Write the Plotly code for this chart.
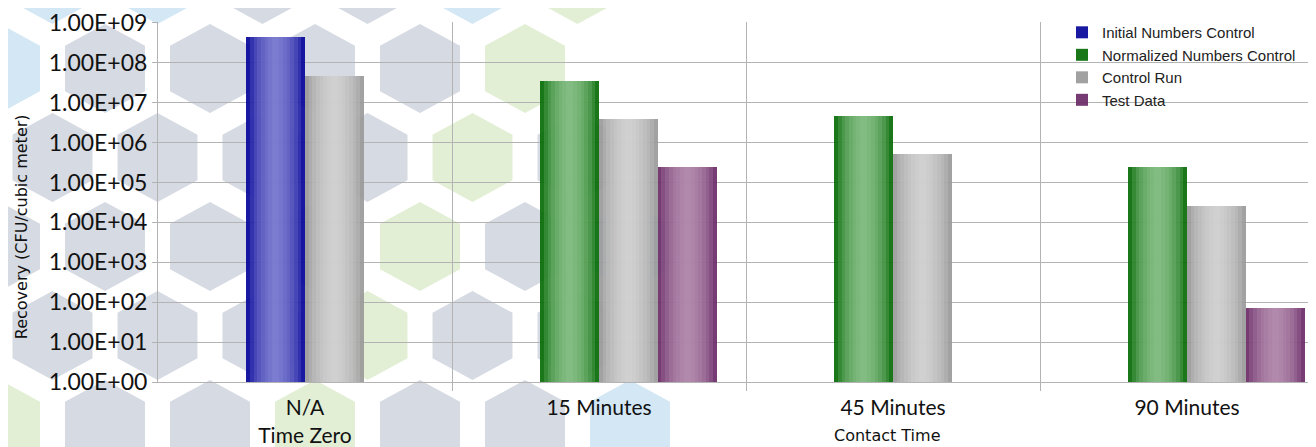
import plotly.graph_objects as go

# ---------------- data ----------------
categories = ["N/A<br>Time Zero", "15 Minutes", "45 Minutes", "90 Minutes"]
initial_numbers_control = [4.3e8, None, None, None]
normalized_numbers_control = [None, 3.5e7, 4.7e6, 2.4e5]
control_run = [4.6e7, 3.8e6, 5.1e5, 2.5e4]
test_data = [None, 2.4e5, None, 73]
y_tick_values = [10 ** k for k in range(10)]
y_tick_text = [f"{v:.2E}" for v in y_tick_values]

# ---------------- layout constants ----------------
OFF = 8                      # default page margin of the html body
W, H = 1316 - OFF, 447 - OFF
L, T, B = 150, 13, 62
PLOT_W = W - L
PLOT_H = H - T - B
CAT_PX = 294.0
x_pos = list(range(len(categories)))
x_range = [-0.5, -0.5 + PLOT_W / CAT_PX]
Y_TOP = 9.02
BAR_W = 0.2
GRID = "#b3b3b3"
MAIN_FONT = "Lato"

series = [
    ("Initial Numbers Control", initial_numbers_control, -BAR_W, "#05059a", "#9090dc"),
    ("Normalized Numbers Control", normalized_numbers_control, -BAR_W, "#066c06", "#9ccb9c"),
    ("Control Run", control_run, 0.0, "#9a9a9a", "#dadada"),
    ("Test Data", test_data, BAR_W, "#6a2b67", "#c09cbc"),
]

fig = go.Figure()
for name, vals, off, edge, light in series:
    fig.add_trace(go.Bar(
        name=name, x=x_pos, y=vals, offset=off, width=BAR_W,
        marker=dict(color=edge, line=dict(width=0)), opacity=0.92,
        hoverinfo="skip",
    ))
N_LAYERS = 7
for name, vals, off, edge, light in series:
    for i in range(1, N_LAYERS + 1):
        w = BAR_W * (1 - i / (N_LAYERS + 1))
        fig.add_trace(go.Bar(
            x=x_pos, y=vals, offset=off + (BAR_W - w) / 2, width=w,
            marker=dict(color=light, line=dict(width=0)), opacity=0.22,
            showlegend=False, hoverinfo="skip",
        ))

# ---------------- decorative hexagon background ----------------
def px_to_paper(px, py):
    """screen pixel -> paper coords"""
    fx, fy = px - OFF, py - OFF
    return (fx - L) / PLOT_W, (H - B - fy) / PLOT_H

HEX_A, HEX_B, HEX_C = 40, 45, 22
GRAY, GREEN, BLUE = "#d6dae2", "#e3efd5", "#d3e7f5"
special = {(0, 0): BLUE, (0, 5): GREEN, (1, 4): GREEN, (2, 4): GREEN, (2, 6): BLUE,
           (3, 3): GREEN, (4, 0): GREEN, (4, 3): GREEN, (4, 6): BLUE,
           (-1, 0): BLUE, (-1, 1): BLUE, (-1, 4): BLUE, (-1, 5): GREEN}
skip = {(0, 6)}
shapes = []
for r in range(-1, 5):
    cy = 68 + 90 * r
    x0 = 0 if r % 2 == 0 else 52.5
    c = 0
    while x0 + 105 * c <= 640:
        cx = x0 + 105 * c
        if (r, c) not in skip:
            pts = [(cx, cy - HEX_B), (cx + HEX_A, cy - HEX_B + HEX_C), (cx + HEX_A, cy + HEX_B - HEX_C),
                   (cx, cy + HEX_B), (cx - HEX_A, cy + HEX_B - HEX_C), (cx - HEX_A, cy - HEX_B + HEX_C)]
            pp = [px_to_paper(*p) for p in pts]
            path = "M " + " L ".join(f"{a:.5f},{b:.5f}" for a, b in pp) + " Z"
            shapes.append(dict(type="path", path=path, xref="paper", yref="paper",
                               fillcolor=special.get((r, c), GRAY), line=dict(width=0),
                               layer="below"))
        c += 1

lx, ly = px_to_paper(1062, 15)
yt_x, yt_y = px_to_paper(10, 228)
ct_x, ct_y = px_to_paper(888, 439)

fig.update_layout(
    width=W, height=H,
    margin=dict(l=L, r=0, t=T, b=B, pad=0),
    paper_bgcolor="white", plot_bgcolor="rgba(0,0,0,0)",
    barmode="overlay", bargap=0,
    shapes=shapes,
    showlegend=True,
    legend=dict(x=lx, y=ly, xanchor="left", yanchor="top",
                bgcolor="rgba(0,0,0,0)", font=dict(family="Liberation Sans", size=15, color="#222"),
                itemwidth=30, tracegroupgap=0),
    xaxis=dict(range=x_range, tickmode="array", tickvals=x_pos, ticktext=categories,
               showgrid=False, zeroline=False, showline=True, linecolor=GRID, ticks="",
               ticklabelstandoff=7,
               tickfont=dict(family=MAIN_FONT, size=21, color="#111"),
               minor=dict(tickvals=[p + 0.5 for p in x_pos[:-1]], ticks="outside", ticklen=8,
                          tickcolor=GRID, showgrid=True, gridcolor=GRID, gridwidth=1)),
    yaxis=dict(type="log", range=[0, Y_TOP], tickmode="array", tickvals=y_tick_values,
               ticktext=y_tick_text, showgrid=True, gridcolor=GRID, gridwidth=1,
               showline=True, linecolor=GRID, ticks="outside", ticklen=5, tickcolor=GRID,
               ticklabeloverflow="allow",
               zeroline=False, tickfont=dict(family=MAIN_FONT, size=23, color="#111")),
    annotations=[
        dict(text="Recovery (CFU/cubic meter)", textangle=-90, xref="paper", yref="paper",
             x=yt_x, y=yt_y, xanchor="left", yanchor="middle",
             showarrow=False, font=dict(family="DejaVu Sans", size=16, color="#111")),
        dict(text="Contact Time", xref="paper", yref="paper",
             x=ct_x, y=ct_y, xanchor="center", yanchor="middle",
             showarrow=False, font=dict(family="DejaVu Sans", size=16, color="#111")),
    ],
)

fig.write_html("out.html")
